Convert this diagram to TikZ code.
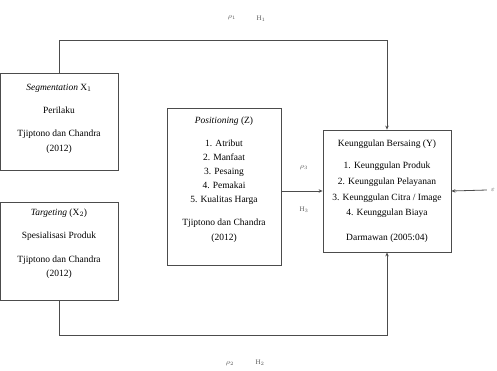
\documentclass[tikz,border=0pt]{standalone}
\usepackage{fontspec}
\setmainfont{Liberation Serif}
\usetikzlibrary{arrows.meta}
\begin{document}
\begin{tikzpicture}[x=1pt,y=-1pt,
  box/.style={draw=black!70, line width=0.8pt, inner sep=0pt},
  txt/.style={font=\fontsize{9.5}{12}\selectfont, inner sep=0pt, anchor=base},
  lab/.style={font=\fontsize{7}{8}\selectfont, text=black!65, inner sep=0pt},
  conn/.style={draw=black!70, line width=0.8pt, -{Stealth[length=4pt,width=3.5pt]}}]
\useasboundingbox (0,0) rectangle (497,370);
% boxes
\node[box, minimum width=117.5pt, minimum height=97pt] (x1) at (59.25,121.5) {};
\node[box, minimum width=117.5pt, minimum height=98pt] (x2) at (59.25,251) {};
\node[box, minimum width=114pt, minimum height=157pt] (z) at (224,186.5) {};
\node[box, minimum width=128pt, minimum height=122pt] (y) at (387,191) {};
% box X1 text
\node[txt] (x1a) at (59,90) {\textit{Segmentation} X$_1$};
\node[txt] (x1b) at (59,113) {Perilaku};
\node[txt] (x1c) at (59,136) {Tjiptono dan Chandra};
\node[txt] (x1d) at (59,151) {(2012)};
% box X2 text
\node[txt] (x2a) at (59,215) {\textit{Targeting} (X$_2$)};
\node[txt] (x2b) at (59,238) {Spesialisasi Produk};
\node[txt] (x2c) at (59,262) {Tjiptono dan Chandra};
\node[txt] (x2d) at (59,276) {(2012)};
% box Z text
\node[txt] (za) at (224,123) {\textit{Positioning} (Z)};
\node[txt] (zb) at (224,146) {1. Atribut};
\node[txt] (zc) at (224,160) {2. Manfaat};
\node[txt] (zd) at (224,174) {3. Pesaing};
\node[txt] (ze) at (224,188) {4. Pemakai};
\node[txt] (zf) at (224,202) {5. Kualitas Harga};
\node[txt] (zg) at (224,225) {Tjiptono dan Chandra};
\node[txt] (zh) at (224,240) {(2012)};
% box Y text
\node[txt] (ya) at (387,146) {Keunggulan Bersaing (Y)};
\node[txt] (yb) at (387,168) {1. Keunggulan Produk};
\node[txt] (yc) at (387,184) {2. Keunggulan Pelayanan};
\node[txt] (yd) at (387,200) {3. Keunggulan Citra / Image};
\node[txt] (ye) at (387,215) {4. Keunggulan Biaya};
\node[txt] (yf) at (387,240) {Darmawan (2005:04)};
% connectors
\coordinate (top) at (0,40);
\coordinate (bot) at (0,335);
\draw[conn] (x1.north) |- (top -| y.north) -- (y.north);
\draw[conn] (x2.south) |- (bot -| y.south) -- (y.south);
\draw[conn] (z.east |- y.west) -- (y.west);
\node[lab] (eps) at (493,190) {$\varepsilon$};
\draw[conn] (eps.west) ++(-4,0) coordinate (epsw) (epsw) -- (y.east);
% arrow labels
\node[lab] (l1) at (232,18) {$\rho_1$};
\node[lab] (l2) at (261,19) {H$_1$};
\node[lab] (l3) at (304,168) {$\rho_3$};
\node[lab] (l4) at (304,210) {H$_3$};
\node[lab] (l5) at (230,364) {$\rho_2$};
\node[lab] (l6) at (260,363) {H$_2$};
\end{tikzpicture}
\end{document}
